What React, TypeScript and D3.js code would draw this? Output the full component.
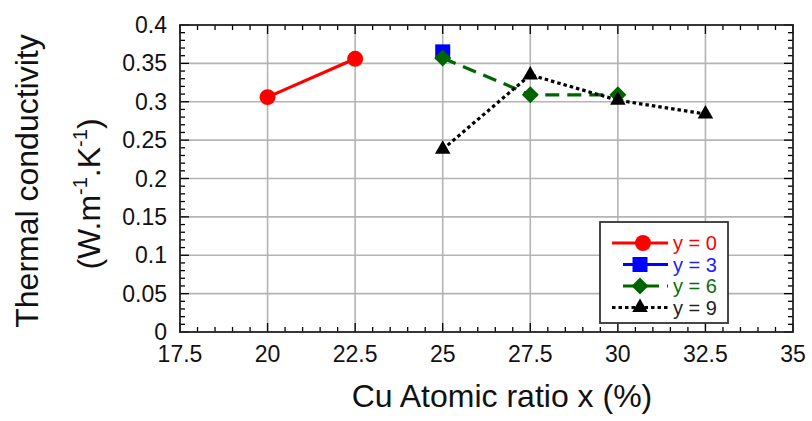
import React from "react";
import * as d3 from "d3";

const xTicks = [17.5, 20, 22.5, 25, 27.5, 30, 32.5, 35];
const xTickLabels = ["17.5", "20", "22.5", "25", "27.5", "30", "32.5", "35"];
const yTicks = [0, 0.05, 0.1, 0.15, 0.2, 0.25, 0.3, 0.35, 0.4];
const yTickLabels = ["0", "0.05", "0.1", "0.15", "0.2", "0.25", "0.3", "0.35", "0.4"];

const seriesNames = ["y = 0", "y = 3", "y = 6", "y = 9"];
const x0 = [20, 22.5];
const v0 = [0.306, 0.356];
const x3 = [25];
const v3 = [0.365];
const x6 = [25, 27.5, 30];
const v6 = [0.357, 0.309, 0.309];
const x9 = [25, 27.5, 30, 32.5];
const v9 = [0.238, 0.335, 0.302, 0.284];

const FONT = "'Liberation Sans', Arial, Helvetica, sans-serif";

type Series = {
  name: string;
  xs: number[];
  vs: number[];
  color: string;
  textColor: string;
  dash: string;
  marker: "circle" | "square" | "diamond" | "triangle";
  legendStart: number;
};

const series: Series[] = [
  { name: seriesNames[0], xs: x0, vs: v0, color: "#ff0000", textColor: "#ff0000", dash: "", marker: "circle", legendStart: 612 },
  { name: seriesNames[1], xs: x3, vs: v3, color: "#0000ff", textColor: "#2020ff", dash: "", marker: "square", legendStart: 623 },
  { name: seriesNames[2], xs: x6, vs: v6, color: "#006400", textColor: "#0a6e0a", dash: "14,8", marker: "diamond", legendStart: 623 },
  { name: seriesNames[3], xs: x9, vs: v9, color: "#000000", textColor: "#222222", dash: "3.5,3", marker: "triangle", legendStart: 612 },
];

function markerPath(m: Series["marker"]): string {
  switch (m) {
    case "circle":
      return d3.symbol(d3.symbolCircle, 200)()!;
    case "square":
      return d3.symbol(d3.symbolSquare, 225)()!;
    case "diamond": {
      const r = 8.5;
      return `M0,${-r}L${r},0L0,${r}L${-r},0Z`;
    }
    case "triangle":
      return d3.symbol(d3.symbolTriangle, 105)()!;
  }
}

export default function App() {
  const W = 812;
  const H = 421;
  const left = 180, right = 793, top = 25, bottom = 332;
  const x = d3.scaleLinear().domain([17.5, 35]).range([left, right]);
  const y = d3.scaleLinear().domain([0, 0.4]).range([bottom, top]);

  const xMinor = d3.range(17.5, 35.0001, 0.5);
  const yMinor = d3.range(0, 0.4001, 0.01);

  const line = d3
    .line<[number, number]>()
    .x((d) => x(d[0]))
    .y((d) => y(d[1]));

  const legendRows = [243, 264.5, 286, 307.5];

  return (
    <svg
      width={W}
      height={H}
      style={{ position: "absolute", left: 0, top: 0, background: "#fff" }}
      fontFamily={FONT}
    >
      <rect x={0} y={0} width={W} height={H} fill="#fff" />
      {/* grid */}
      {xTicks.slice(1, -1).map((t) => (
        <line key={"gx" + t} x1={x(t)} x2={x(t)} y1={top} y2={bottom} stroke="#b4b4b4" strokeWidth={1.6} />
      ))}
      {yTicks.slice(1, -1).map((t) => (
        <line key={"gy" + t} x1={left} x2={right} y1={y(t)} y2={y(t)} stroke="#b4b4b4" strokeWidth={1.6} />
      ))}
      {/* minor ticks */}
      {xMinor.map((t, i) => (
        <g key={"mx" + i}>
          <line x1={x(t)} x2={x(t)} y1={bottom} y2={bottom - (i % 5 === 0 ? 9 : 5)} stroke="#000" strokeWidth={1.3} />
          <line x1={x(t)} x2={x(t)} y1={top} y2={top + (i % 5 === 0 ? 9 : 5)} stroke="#000" strokeWidth={1.3} />
        </g>
      ))}
      {yMinor.map((t, i) => (
        <g key={"my" + i}>
          <line x1={left} x2={left + (i % 5 === 0 ? 9 : 5)} y1={y(t)} y2={y(t)} stroke="#000" strokeWidth={1.3} />
          <line x1={right} x2={right - (i % 5 === 0 ? 9 : 5)} y1={y(t)} y2={y(t)} stroke="#000" strokeWidth={1.3} />
        </g>
      ))}
      {/* frame */}
      <rect x={left} y={top} width={right - left} height={bottom - top} fill="none" stroke="#222" strokeWidth={1.8} />
      {/* tick labels */}
      {xTicks.map((t, i) => (
        <text key={"xl" + t} x={x(t)} y={362} textAnchor="middle" fontSize={23} fill="#111">
          {xTickLabels[i]}
        </text>
      ))}
      {yTicks.map((t, i) => (
        <text key={"yl" + t} x={167} y={y(t) + 8} textAnchor="end" fontSize={23} fill="#111">
          {yTickLabels[i]}
        </text>
      ))}
      {/* axis titles */}
      <text x={502} y={407} textAnchor="middle" fontSize={32} fill="#111">
        Cu Atomic ratio x (%)
      </text>
      <text transform={`translate(38,181) rotate(-90)`} textAnchor="middle" fontSize={32} fill="#111">
        Thermal conductivity
      </text>
      <text transform={`translate(100,194) rotate(-90)`} textAnchor="middle" fontSize={32} fill="#111">
        (W.m
        <tspan fontSize={20} dy={-13}>-1</tspan>
        <tspan dy={13}>.K</tspan>
        <tspan fontSize={20} dy={-13}>-1</tspan>
        <tspan dy={13}>)</tspan>
      </text>
      {/* series */}
      {series.map((s) => {
        const pts = s.xs.map((v, i) => [v, s.vs[i]] as [number, number]);
        return (
          <g key={s.name}>
            {pts.length > 1 && (
              <path d={line(pts)!} fill="none" stroke={s.color} strokeWidth={3.2} strokeDasharray={s.dash || undefined} />
            )}
            {pts.map((p, i) => (
              <path key={i} d={markerPath(s.marker)} transform={`translate(${x(p[0])},${y(p[1])})`} fill={s.color} />
            ))}
          </g>
        );
      })}
      {/* legend */}
      <rect x={600} y={222} width={128} height={101} fill="#fff" stroke="#333" strokeWidth={1.8} />
      {series.map((s, i) => (
        <g key={"lg" + s.name}>
          <line x1={s.legendStart} x2={668} y1={legendRows[i]} y2={legendRows[i]} stroke={s.color} strokeWidth={3.2} strokeDasharray={s.dash === "14,8" ? "14,8" : s.dash || undefined} />
          <path d={markerPath(s.marker)} transform={`translate(${i === 0 ? 643 : 640},${legendRows[i]})`} fill={s.color} />
          <text x={673} y={legendRows[i] + 7} fontSize={20} fill={s.textColor}>
            {s.name}
          </text>
        </g>
      ))}
    </svg>
  );
}
